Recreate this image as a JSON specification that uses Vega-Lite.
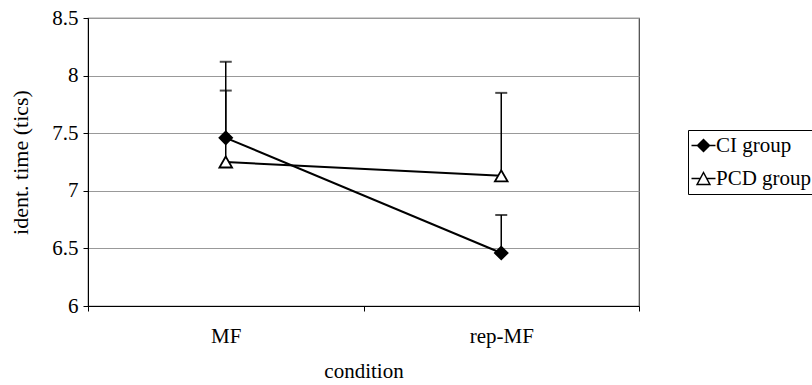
{
  "$schema": "https://vega.github.io/schema/vega-lite/v6.json",
  "width": 551,
  "height": 288,
  "autosize": {"type": "none"},
  "padding": {"left": 88, "top": 18, "right": 173, "bottom": 79},
  "background": "white",
  "config": {
    "font": "Liberation Serif",
    "view": {"stroke": "#444", "strokeWidth": 1.2},
    "axis": {"labelFont": "Liberation Serif", "titleFont": "Liberation Serif", "labelFontSize": 21, "titleFontSize": 21, "titleFontWeight": "normal", "labelColor": "black", "titleColor": "black", "domainColor": "black", "tickColor": "black", "tickSize": 5},
    "legend": {"labelFont": "Liberation Serif", "labelFontSize": 21, "labelColor": "black"}
  },
  "data": {"values": [
    {"condition": "MF", "group": "CI group", "time": 7.46, "upper": 7.87},
    {"condition": "rep-MF", "group": "CI group", "time": 6.46, "upper": 6.79},
    {"condition": "MF", "group": "PCD group", "time": 7.25, "upper": 8.12},
    {"condition": "rep-MF", "group": "PCD group", "time": 7.13, "upper": 7.85}
  ]},
  "encoding": {
    "x": {"field": "condition", "type": "nominal", "sort": ["MF", "rep-MF"],
      "scale": {"type": "band", "paddingInner": 0, "paddingOuter": 0},
      "axis": {"title": "condition", "labelAngle": 0, "tickBand": "extent", "grid": false, "labelPadding": 14, "labelFontSize": 21, "titleFontSize": 21, "titlePadding": 14}}
  },
  "layer": [
    {
      "mark": {"type": "rule", "color": "black", "strokeWidth": 1.5},
      "encoding": {
        "y": {"field": "time", "type": "quantitative",
          "scale": {"domain": [6, 8.5], "nice": false, "zero": false},
          "axis": {"title": "ident. time (tics)", "values": [6, 6.5, 7, 7.5, 8, 8.5], "format": "~g", "gridColor": "#999", "gridWidth": 1, "labelPadding": 5, "labelFontSize": 21, "titleFontSize": 22, "titlePadding": 19}},
        "y2": {"field": "upper"}
      }
    },
    {
      "mark": {"type": "tick", "orient": "horizontal", "color": "black", "size": 12, "thickness": 2},
      "encoding": {"y": {"field": "upper", "type": "quantitative"}}
    },
    {
      "mark": {"type": "line", "color": "black", "strokeWidth": 2},
      "encoding": {
        "y": {"field": "time", "type": "quantitative"},
        "detail": {"field": "group", "type": "nominal"}
      }
    },
    {
      "mark": {"type": "point", "filled": false, "stroke": "black", "strokeWidth": 1.8, "size": 160, "opacity": 1},
      "encoding": {
        "y": {"field": "time", "type": "quantitative"},
        "shape": {"field": "group", "type": "nominal",
          "scale": {"domain": ["CI group", "PCD group"], "range": ["diamond", "triangle-up"]},
          "legend": null},
        "fill": {"field": "group", "type": "nominal",
          "scale": {"domain": ["CI group", "PCD group"], "range": ["black", "white"]},
          "legend": null}
      }
    },
    {
      "mark": {"type": "point", "filled": false, "stroke": "black", "strokeWidth": 1.8, "size": 256, "opacity": 0},
      "encoding": {
        "y": {"field": "time", "type": "quantitative"},
        "shape": {"field": "group", "type": "nominal",
          "scale": {"domain": ["CI group", "PCD group"], "range": ["M-1.5,0H1.5M-0.75,0L0,-0.75L0.75,0L0,0.75Z", "M-1.5,0H-0.4M0.4,0H1.5M0,-0.75L0.8,0.75L-0.8,0.75Z"]},
          "legend": {"title": null, "orient": "none", "legendX": 600, "legendY": 112,
            "strokeColor": "black", "padding": 5, "rowPadding": 11, "labelOffset": 2, "labelFontSize": 21,
            "symbolOpacity": 1, "symbolSize": 256,
            "encode": {"symbols": {
              "stroke": {"value": "black"},
              "strokeWidth": {"value": 1.8},
              "strokeOpacity": {"value": 1},
              "fillOpacity": {"value": 1}
            }}}},
        "fill": {"field": "group", "type": "nominal",
          "scale": {"domain": ["CI group", "PCD group"], "range": ["black", "white"]}}
      }
    }
  ],
  "resolve": {"scale": {"shape": "independent", "fill": "independent"}}
}
